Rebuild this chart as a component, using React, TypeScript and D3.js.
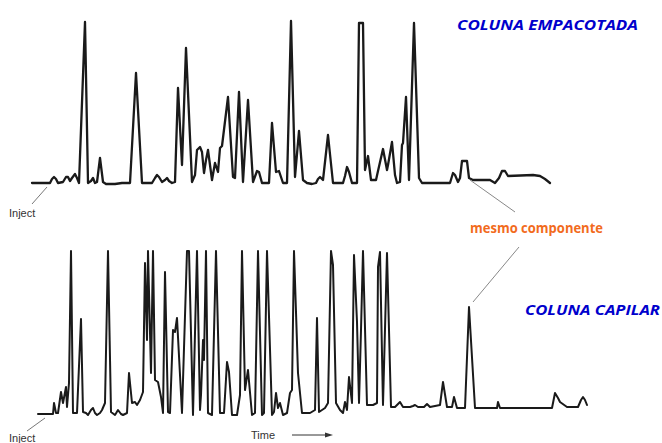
import React from "react";
import * as d3 from "d3";

// Packed column chromatogram: [time, signal]
const packedTrace: [number, number][] = [
  [32,0],[50,0],[52,4],[54,6],[56,4],[58,0],[63,1],[66,6],[68,6],[70,2],[72,5],[75,9],[77,5],[79,0],
  [85,161],[88,0],[91,2],[93,5],[95,0],[97,1],[100,25],[103,1],[106,-1],[115,-1],[122,0],[130,0],
  [136,110],[142,0],[152,0],[155,5],[157,8],[159,6],[162,1],[165,3],[167,5],[169,2],[172,0],[175,1],
  [178,95],[182,18],[186,135],[192,1],[195,8],[197,33],[200,36],[202,31],[204,10],[206,23],[208,33],
  [210,18],[212,3],[215,20],[218,11],[220,35],[222,37],[228,86],[233,6],[235,5],[239,91],[243,1],
  [248,83],[253,1],[257,12],[259,11],[262,0],[269,0],[272,60],[276,11],[279,12],[281,6],[283,0],
  [287,0],[291,162],[295,6],[299,52],[303,3],[307,0],[312,-1],[316,0],[318,4],[320,6],[323,3],
  [328,48],[333,0],[343,0],[345,7],[347,16],[349,11],[352,0],[357,0],[359,160],[363,160],[365,13],
  [368,27],[371,3],[376,3],[378,12],[383,34],[387,13],[388,18],[392,41],[395,8],[397,0],[400,1],
  [402,38],[403,40],[406,86],[409,3],[414,160],[419,5],[422,0],[450,0],[453,10],[455,8],[458,1],
  [460,5],[462,22],[467,22],[469,5],[473,3],[490,3],[495,0],[499,5],[502,12],[505,12],[508,7],
  [533,8],[540,7],[545,4],[550,0],
];

// Capillary column chromatogram: [time, signal]
const capillaryTrace: [number, number][] = [
  [38,1],[53,1],[54,12],[56,2],[58,2],[61,23],[63,12],[66,28],[67,8],[69,32],[71,164],[73,2],[77,2],
  [81,96],[83,3],[86,2],[88,0],[91,5],[93,7],[95,2],[97,0],[100,2],[102,5],[105,12],[108,164],
  [111,3],[115,0],[118,5],[121,1],[123,0],[127,2],[129,42],[132,12],[135,13],[137,10],[140,15],
  [143,23],[145,152],[147,75],[148,164],[151,42],[153,164],[155,35],[158,33],[161,18],[163,2],
  [165,143],[168,3],[170,2],[173,85],[175,83],[177,97],[182,2],[187,164],[189,164],[193,0],
  [197,164],[200,5],[201,20],[203,75],[204,55],[206,164],[208,2],[212,0],[216,164],[220,2],[224,2],
  [227,53],[229,43],[232,0],[237,0],[240,20],[242,164],[245,25],[248,45],[252,0],[255,2],[258,164],
  [262,0],[264,2],[267,164],[272,0],[274,3],[276,22],[278,7],[280,12],[283,0],[287,2],[290,22],
  [292,25],[294,164],[298,42],[302,2],[310,2],[315,5],[317,97],[319,3],[325,7],[328,12],[331,164],
  [333,150],[336,12],[340,5],[343,2],[345,13],[347,5],[349,38],[352,12],[354,160],[357,93],[359,12],
  [361,85],[363,164],[367,10],[373,10],[377,12],[378,148],[380,163],[383,10],[387,162],[391,8],
  [395,8],[398,11],[400,13],[403,8],[410,8],[413,9],[415,10],[418,8],[424,8],[427,11],[430,8],
  [440,10],[443,33],[447,8],[452,8],[454,18],[457,7],[465,7],[469,108],[475,7],[497,7],[498,13],
  [500,7],[552,7],[555,22],[558,17],[560,13],[567,8],[578,8],[581,15],[583,18],[585,15],[587,10],
];

const titles = ["COLUNA EMPACOTADA", "COLUNA CAPILAR"];
const annotation = "mesmo componente";
const injectLabel = "Inject";
const timeLabel = "Time";

export default function App() {
  const W = 662, H = 443;
  const x = d3.scaleLinear().domain([0, 662]).range([0, 662]);
  const yTop = d3.scaleLinear().domain([0, 162]).range([183, 21]);
  const yBot = d3.scaleLinear().domain([0, 164]).range([415, 251]);
  const lineTop = d3.line<[number, number]>().x(d => x(d[0])).y(d => yTop(d[1]));
  const lineBot = d3.line<[number, number]>().x(d => x(d[0])).y(d => yBot(d[1]));

  return (
    <svg width={W} height={H} style={{ position: "absolute", left: 0, top: 0, background: "#fff" }}>
      <path d={lineTop(packedTrace) || ""} fill="none" stroke="#1a1a1a" strokeWidth={2.3} strokeLinejoin="round" strokeLinecap="round" />
      <path d={lineBot(capillaryTrace) || ""} fill="none" stroke="#1a1a1a" strokeWidth={2} strokeLinejoin="round" strokeLinecap="round" />

      {/* Inject markers */}
      <line x1={32} y1={204} x2={47} y2={187} stroke="#555" strokeWidth={0.8} />
      <text x={9} y={217} fontFamily="Liberation Sans, Arial, sans-serif" fontSize={11} fill="#333">{injectLabel}</text>
      <line x1={27} y1={431} x2={45} y2={418} stroke="#555" strokeWidth={0.8} />
      <text x={9} y={442} fontFamily="Liberation Sans, Arial, sans-serif" fontSize={11} fill="#333">{injectLabel}</text>

      {/* Time arrow */}
      <text x={251} y={439} fontFamily="Liberation Sans, Arial, sans-serif" fontSize={11} fill="#333">{timeLabel}</text>
      <line x1={292} y1={435} x2={328} y2={435} stroke="#333" strokeWidth={1} />
      <path d="M333,435 L325,432.5 L325,437.5 Z" fill="#333" />

      {/* Titles */}
      <text x={457} y={30} fontFamily="Open Sans, sans-serif" fontWeight="bold" fontStyle="italic" fontSize={13.5}
        fill="#0000CC" textLength={181} lengthAdjust="spacingAndGlyphs">{titles[0]}</text>
      <text x={525} y={315} fontFamily="Open Sans, sans-serif" fontWeight="bold" fontStyle="italic" fontSize={13.5}
        fill="#0000CC" textLength={135} lengthAdjust="spacingAndGlyphs">{titles[1]}</text>

      {/* Annotation */}
      <line x1={470} y1={180} x2={515} y2={212} stroke="#888" strokeWidth={1} />
      <line x1={519} y1={247} x2={473} y2={302} stroke="#888" strokeWidth={1} />
      <text x={470} y={233} fontFamily="Open Sans, sans-serif" fontWeight="bold" fontSize={13.5}
        fill="#F26B1D" textLength={133} lengthAdjust="spacingAndGlyphs">{annotation}</text>
    </svg>
  );
}
